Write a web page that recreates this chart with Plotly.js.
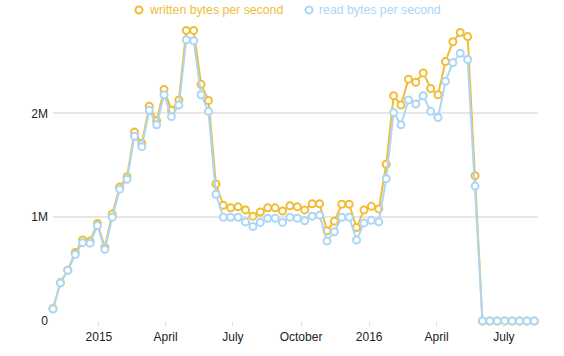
<!DOCTYPE html>
<html>
<head>
<meta charset="utf-8">
<script src="https://cdn.plot.ly/plotly-3.0.1.min.js"></script>
<style>html,body{margin:0;padding:0;background:#fff;}#chart{width:564px;height:356px;}</style>
</head>
<body>
<div id="chart"></div>
<script>
const dates = ["2014-10-31","2014-11-10","2014-11-20","2014-11-30","2014-12-10","2014-12-20","2014-12-30",
"2015-01-09","2015-01-19","2015-01-29","2015-02-08","2015-02-18","2015-02-28","2015-03-10","2015-03-20","2015-03-30",
"2015-04-09","2015-04-19","2015-04-29","2015-05-09","2015-05-19","2015-05-29","2015-06-08","2015-06-18","2015-06-28",
"2015-07-08","2015-07-18","2015-07-28","2015-08-07","2015-08-17","2015-08-27","2015-09-06","2015-09-16","2015-09-26",
"2015-10-06","2015-10-16","2015-10-26","2015-11-05","2015-11-15","2015-11-25","2015-12-05","2015-12-15","2015-12-25",
"2016-01-04","2016-01-14","2016-01-24","2016-02-03","2016-02-13","2016-02-23","2016-03-04","2016-03-14","2016-03-24",
"2016-04-03","2016-04-13","2016-04-23","2016-05-03","2016-05-13","2016-05-23","2016-06-02","2016-06-12","2016-06-22",
"2016-07-02","2016-07-12","2016-07-22","2016-08-01","2016-08-11"];

const writtenM = [0.12,0.37,0.49,0.66,0.78,0.77,0.94,0.71,1.03,1.29,1.39,1.82,1.71,2.07,1.93,2.23,2.03,2.13,2.80,2.80,
2.28,2.125,1.32,1.115,1.09,1.10,1.07,1.01,1.05,1.09,1.09,1.06,1.11,1.10,1.07,1.13,1.13,0.87,0.96,1.125,1.125,0.90,1.07,
1.105,1.08,1.51,2.17,2.08,2.33,2.30,2.39,2.24,2.18,2.50,2.69,2.78,2.74,1.40,0,0,0,0,0,0,0,0];

const readM = [0.115,0.365,0.49,0.64,0.755,0.75,0.92,0.69,1.00,1.27,1.365,1.78,1.68,2.03,1.89,2.18,1.97,2.08,2.71,2.70,
2.18,2.02,1.22,1.00,1.00,1.00,0.955,0.91,0.95,0.99,0.99,0.95,1.00,0.99,0.965,1.01,1.02,0.77,0.86,1.00,1.00,0.78,0.945,
0.97,0.955,1.37,2.01,1.89,2.13,2.09,2.17,2.02,1.96,2.31,2.49,2.58,2.52,1.30,0,0,0,0,0,0,0,0];

const seriesNames = ["written bytes per second", "read bytes per second"];
const xTickVals = ["2015-01-01","2015-04-01","2015-07-01","2015-10-01","2016-01-01","2016-04-01","2016-07-01"];
const xTickText = ["2015","April","July","October","2016","April","July"];
const yTickVals = [0, 1000000, 2000000];
const yTickText = ["0","1M","2M"];

const colors = ["#f0be36", "#acd6f6"];
const toBytes = a => a.map(v => v * 1e6);

function trace(name, y, color) {
  return {
    type: "scatter", mode: "lines+markers", name: name,
    x: dates, y: toBytes(y), cliponaxis: false, showlegend: false,
    line: {color: color, width: 2},
    marker: {symbol: "circle", size: 7, color: "#ffffff", line: {color: color, width: 2}},
    hoverinfo: "x+y"
  };
}

const data = [trace(seriesNames[0], writtenM, colors[0]), trace(seriesNames[1], readM, colors[1])];

// custom legend placed in the top margin (pixel -> paper conversion)
const M = {l: 53, r: 26, t: 20, b: 35};
const PW = 564 - M.l - M.r, PH = 356 - M.t - M.b;
const px2x = px => (px - M.l) / PW;
const py2y = py => (356 - M.b - py) / PH;
const legendX = [139, 309];
const legendY = 10;

const shapes = [], annotations = [];
seriesNames.forEach((n, i) => {
  shapes.push({type: "circle", xref: "paper", yref: "paper",
    xsizemode: "pixel", ysizemode: "pixel",
    xanchor: px2x(legendX[i]), yanchor: py2y(legendY),
    x0: -3.5, x1: 3.5, y0: -3.5, y1: 3.5,
    line: {color: colors[i], width: 2}, fillcolor: "#ffffff"});
  annotations.push({xref: "paper", yref: "paper", x: px2x(legendX[i] + 8), y: py2y(legendY),
    xanchor: "left", yanchor: "middle", showarrow: false, text: n,
    font: {size: 12.3, color: colors[i]}});
});

const layout = {
  width: 564, height: 356,
  margin: {l: M.l, r: M.r, t: M.t, b: M.b, pad: 0, autoexpand: false},
  paper_bgcolor: "#fff", plot_bgcolor: "#fff",
  font: {family: "Liberation Sans, Arial, sans-serif", size: 12, color: "#222"},
  showlegend: false,
  shapes: shapes, annotations: annotations,
  xaxis: {type: "date", range: ["2014-10-31", "2016-08-16"],
          tickvals: xTickVals, ticktext: xTickText,
          showgrid: false, zeroline: false, showline: false,
          ticks: "outside", ticklen: 5, tickcolor: "#e3e3e3", tickwidth: 1,
          tickfont: {size: 12, color: "#222"}, fixedrange: true},
  yaxis: {range: [0, 2900000], tickvals: yTickVals, ticktext: yTickText,
          showgrid: true, gridcolor: "#e6e6e6", gridwidth: 2,
          zeroline: false, showline: false, ticks: "", ticklabelstandoff: 4,
          tickfont: {size: 12, color: "#222"}, fixedrange: true}
};

Plotly.newPlot("chart", data, layout, {displayModeBar: false, staticPlot: true});
</script>
</body>
</html>
